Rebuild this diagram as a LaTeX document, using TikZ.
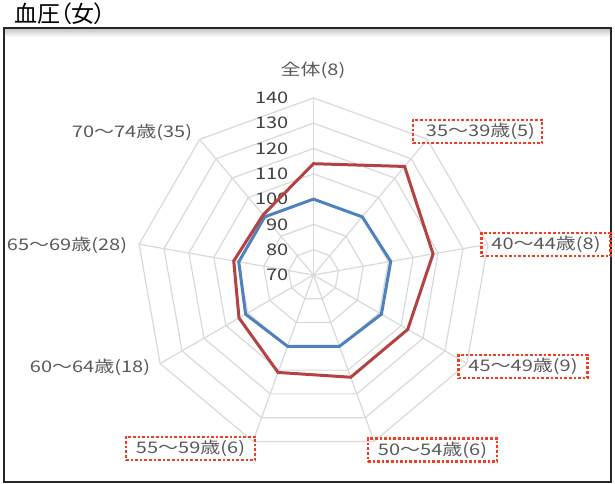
\documentclass[tikz,border=0pt]{standalone}
\usepackage{fontspec}
\newfontfamily\jpfont[FakeStretch=1.25]{Noto Sans CJK JP}
\newfontfamily\jptitle[RawFeature=+palt]{Noto Sans CJK JP}
\definecolor{gridgray}{RGB}{217,217,217}
\definecolor{labelgray}{RGB}{89,89,89}
\definecolor{numgray}{RGB}{64,64,64}
\definecolor{seriesred}{RGB}{180,66,66}
\definecolor{seriesblue}{RGB}{79,129,189}
\definecolor{markred}{RGB}{245,60,30}
\begin{document}
\begin{tikzpicture}
	[	x=1pt,y=1pt,
	grid/.style={draw=gridgray,line width=1.2pt},
	lab/.style={font=\jpfont\fontsize{16}{18}\selectfont,text=labelgray,inner sep=0pt},
	num/.style={font=\jpfont\fontsize{16}{18}\selectfont,text=numgray,inner sep=0pt,anchor=east},
	markbox/.style={lab,draw=markred,line width=2.8pt,dash pattern=on 2.6pt off 2pt,minimum width=129pt,minimum height=23pt},
	redline/.style={draw=seriesred,line width=3pt},
	blueline/.style={draw=seriesblue,line width=3pt}
	]
	\useasboundingbox (0,0) rectangle (615,483);
	\shade[top color=black!22,bottom color=white] (5,446) rectangle (610,454);
	\draw[black!85,line width=2pt] (4,1) rectangle (611,455);
	\node[font=\jptitle\fontsize{23}{26}\selectfont,anchor=west,inner sep=0pt] (title) at (14,469){血圧（女）};

	\begin{scope}[shift={(313.5,208)}]
	\foreach \k in {1,...,7}
		\draw[grid] (90:{\k*25.3}) \foreach \a in {50,10,...,-230}{ -- (\a:{\k*25.3}) } -- cycle;
	\foreach \a in {90,50,...,-230}
		\draw[grid] (0,0) -- (\a:177.1);

	\node[num] (v70) at (-25,0){70};
	\node[num] (v80) at (-25,25.3){80};
	\node[num] (v90) at (-25,50.6){90};
	\node[num] (v100) at (-25,75.9){100};
	\node[num] (v110) at (-25,101.2){110};
	\node[num] (v120) at (-25,126.5){120};
	\node[num] (v130) at (-25,151.8){130};
	\node[num] (v140) at (-25,177.1){140};

	\draw[blueline] (90:75.9) -- (50:75.9) -- (10:78.4) -- (-30:78.4) -- (-70:75.9) -- (-110:75.9) -- (-150:78.4) -- (-190:75.9) -- (-230:75.9) -- cycle;
	\draw[redline] (90:111.3) -- (50:141.7) -- (10:121.4) -- (-30:108.8) -- (-70:108.8) -- (-110:103.7) -- (-150:86) -- (-190:81) -- (-230:78.4) -- cycle;
	\end{scope}

	\node[lab] (all) at (313,413){全体(8)};
	\node[markbox,text width=115pt,align=right] (a35) at (477.5,351.5){35～39歳(5)};
	\node[markbox] (a40) at (546,238.5){40～44歳(8)};
	\node[markbox] (a45) at (523,116.5){45～49歳(9)};
	\node[markbox] (a50) at (432.5,33){50～54歳(6)};
	\node[markbox] (a55) at (190.5,34.5){55～59歳(6)};
	\node[lab] (a60) at (90,116){60～64歳(18)};
	\node[lab] (a65) at (67,238){65～69歳(28)};
	\node[lab] (a70) at (132,351){70～74歳(35)};
\end{tikzpicture}
\end{document}
